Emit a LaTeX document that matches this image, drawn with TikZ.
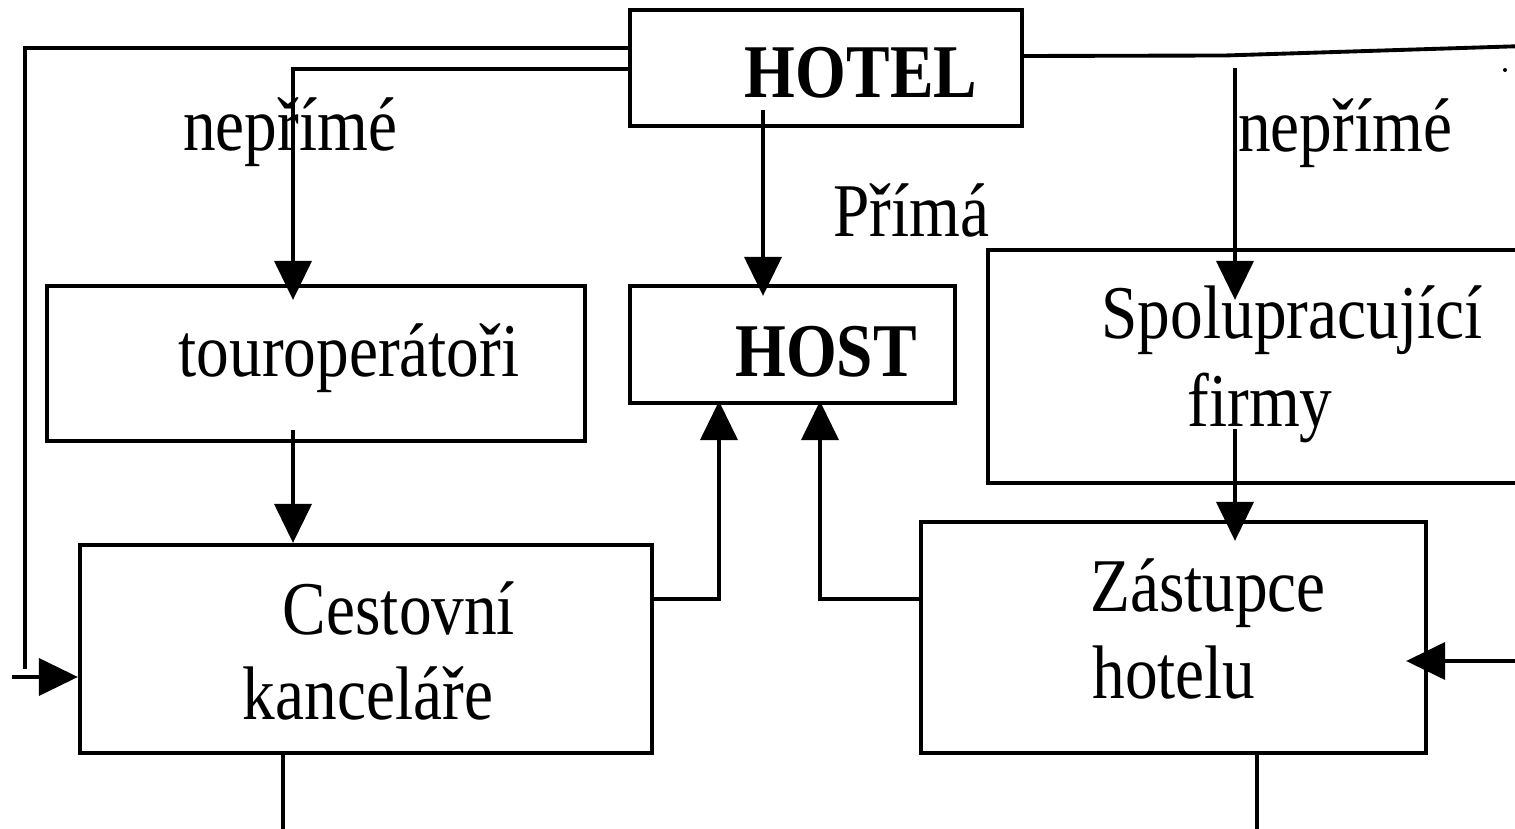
\documentclass[tikz,border=0pt]{standalone}
\usepackage{fontspec}
\setmainfont{Liberation Serif}[FakeStretch=0.86]
\usetikzlibrary{arrows.meta,calc}

\begin{document}
\begin{tikzpicture}[
    boxnode/.style={draw,line width=1.2pt,inner sep=0pt,fill=white},
    lbl/.style={anchor=base,inner sep=0pt,font=\fontsize{21.6}{26}\selectfont},
    conn/.style={line width=1.1pt},
    arr/.style={conn,-{Triangle[length=0.39cm,width=0.37cm]}}
    ]
    \clip (0,0) rectangle (15.15,-8.29);

    \node[boxnode,minimum width=3.92cm,minimum height=1.16cm] (hotel) at (8.26,-0.68) {};
    \node[boxnode,minimum width=5.38cm,minimum height=1.55cm] (tour) at (3.16,-3.635) {};
    \node[boxnode,minimum width=3.25cm,minimum height=1.17cm] (host) at (7.925,-3.445) {};
    \node[boxnode,minimum width=5.52cm,minimum height=2.33cm] (spol) at (12.64,-3.665) {};
    \node[boxnode,minimum width=5.72cm,minimum height=2.08cm] (cest) at (3.66,-6.49) {};
    \node[boxnode,minimum width=5.05cm,minimum height=2.31cm] (zast) at (11.735,-6.375) {};

    \node[lbl,font=\fontsize{21.6}{26}\selectfont\bfseries] (thotel) at (8.61,-0.98) {HOTEL};
    \node[lbl,font=\fontsize{21.6}{26}\selectfont\bfseries] (thost) at (8.26,-3.77) {HOST};
    \node[lbl] (tneL) at (2.90,-1.51) {nepřímé};
    \node[lbl] (tneR) at (13.45,-1.52) {nepřímé};
    \node[lbl] (tprima) at (9.11,-2.37) {Přímá};
    \node[lbl] (ttour) at (3.49,-3.77) {touroperátoři};
    \node[lbl] (tspol1) at (12.92,-3.39) {Spolupracující};
    \node[lbl] (tspol2) at (12.60,-4.27) {firmy};
    \node[lbl] (tcest1) at (3.99,-6.35) {Cestovní};
    \node[lbl] (tcest2) at (3.68,-7.19) {kanceláře};
    \node[lbl] (tzast1) at (12.08,-6.12) {Zástupce};
    \node[lbl] (tzast2) at (11.74,-6.98) {hotelu};

    \coordinate (lft) at (0.25,-6.69);
    \coordinate (cin) at (0.12,-6.77);
    \coordinate (rtop) at (15.25,-0.46);
    \coordinate (sp) at (12.35,-0.68);
    \coordinate (rin) at (15.25,-6.61);

    % from the hotel
    \draw[conn] ([yshift=0.2cm]hotel.west) -| (lft);
    \draw[arr] (cin) -- (cin -| cest.west);
    \draw[arr,shorten >=-0.16cm] ([yshift=-0.01cm]hotel.west) -| ([xshift=-0.23cm]tour.north);
    \draw[arr,shorten >=-0.12cm] ($(hotel.south)+(-0.63,0.18)$) coordinate (h1) -- (h1 |- host.north);
    \draw[conn] ([yshift=0.12cm]hotel.east) -- (12.25,-0.555) -- (rtop);
    \fill (15.05,-0.70) circle (0.02);
    \draw[arr,shorten >=-0.52cm] (sp) -- (sp |- spol.north);

    % towards the guest
    \draw[arr,shorten >=-0.21cm] ($(spol.south)+(-0.29,0.56)$) coordinate (s1) -- (s1 |- zast.north);
    \draw[arr] ($(tour.south)+(-0.23,0.13)$) coordinate (t1) -- (t1 |- cest.north);
    \draw[arr,shorten >=-0.04cm] ([yshift=0.5cm]cest.east) -| ([xshift=-0.735cm]host.south);
    \draw[arr,shorten >=-0.04cm] ([yshift=0.385cm]zast.west) -| ([xshift=0.275cm]host.south);
    \draw[arr,shorten >=-0.22cm] (rin) -- (rin -| zast.east);

    \draw[conn] ([xshift=-0.83cm]cest.south) -- ++(0,-0.8);
    \draw[conn] ([xshift=0.835cm]zast.south) -- ++(0,-0.8);

  \end{tikzpicture}
\end{document}
